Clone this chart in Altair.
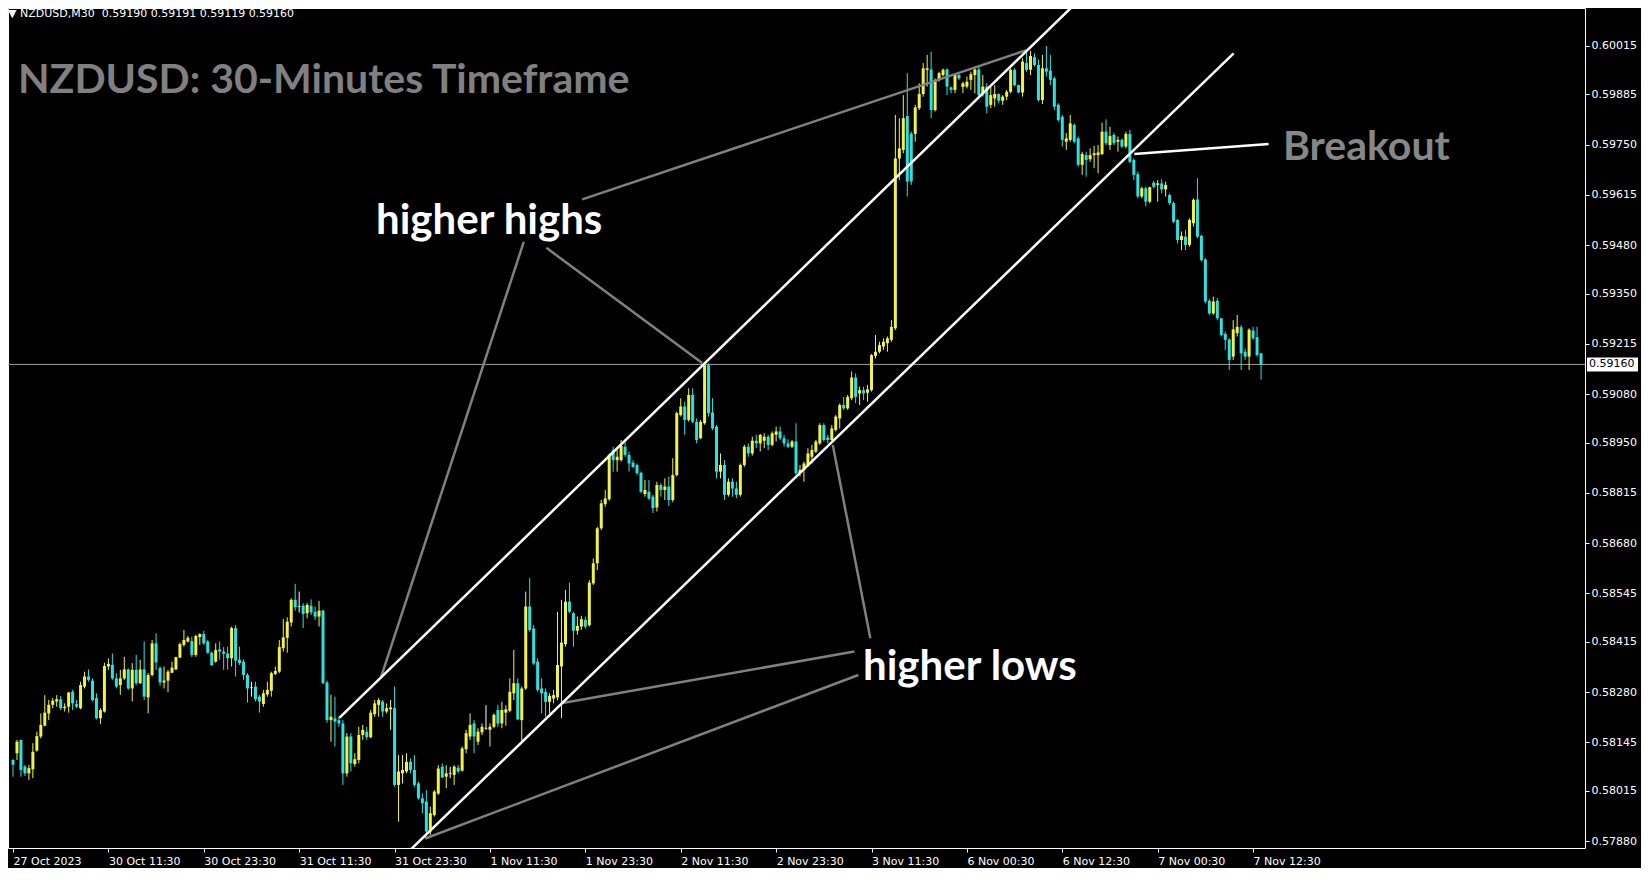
import altair as alt
import pandas as pd

# ---------------- data ----------------
open_ = [
 0.58098,0.58116,0.58152,0.58080,0.58062,0.58073,0.58123,0.58161,0.58190,0.58223,
 0.58246,0.58255,0.58261,0.58237,0.58241,0.58281,0.58248,0.58237,0.58295,0.58322,
 0.58311,0.58264,0.58210,0.58228,0.58349,0.58353,0.58317,0.58299,0.58317,0.58341,
 0.58290,0.58340,0.58304,0.58341,0.58266,0.58326,0.58411,0.58345,0.58306,0.58311,
 0.58332,0.58341,0.58373,0.58407,0.58416,0.58417,0.58380,0.58428,0.58436,0.58416,
 0.58386,0.58362,0.58395,0.58389,0.58384,0.58371,0.58452,0.58367,0.58362,0.58326,
 0.58292,0.58295,0.58268,0.58248,0.58274,0.58284,0.58329,0.58335,0.58398,0.58426,
 0.58467,0.58528,0.58510,0.58512,0.58492,0.58512,0.58496,0.58483,0.58499,0.58306,
 0.58205,0.58210,0.58205,0.58196,0.58062,0.58161,0.58087,0.58098,0.58165,0.58174,
 0.58159,0.58221,0.58246,0.58255,0.58228,0.58234,0.58237,0.58031,0.58062,0.58067,
 0.58093,0.58071,0.58035,0.57995,0.57986,0.57906,0.57950,0.58008,0.58080,0.58053,
 0.58062,0.58058,0.58077,0.58069,0.58127,0.58161,0.58196,0.58147,0.58172,0.58183,
 0.58179,0.58187,0.58232,0.58196,0.58225,0.58230,0.58277,0.58304,0.58205,0.58290,
 0.58510,0.58451,0.58362,0.58290,0.58281,0.58254,0.58263,0.58266,0.58349,0.58409,
 0.58523,0.58492,0.58445,0.58456,0.58474,0.58460,0.58572,0.58626,0.58720,0.58785,
 0.58798,0.58930,0.58903,0.58903,0.58939,0.58917,0.58896,0.58890,0.58869,0.58812,
 0.58818,0.58805,0.58776,0.58836,0.58823,0.58832,0.58796,0.58863,0.59024,0.59047,
 0.59011,0.59078,0.59006,0.58962,0.59002,0.59158,0.59031,0.58993,0.58872,0.58890,
 0.58810,0.58845,0.58827,0.58810,0.58890,0.58939,0.58921,0.58955,0.58948,0.58955,
 0.58966,0.58944,0.58971,0.58980,0.58962,0.58948,0.58939,0.58953,0.58868,0.58877,
 0.58890,0.58912,0.58926,0.58948,0.58997,0.58964,0.58957,0.58984,0.59015,0.59051,
 0.59042,0.59069,0.59125,0.59082,0.59091,0.59084,0.59091,0.59183,0.59194,0.59208,
 0.59217,0.59226,0.59257,0.59713,0.59736,0.59827,0.59780,0.59779,0.59848,0.59886,
 0.59951,0.59952,0.59843,0.59924,0.59937,0.59952,0.59904,0.59897,0.59937,0.59905,
 0.59906,0.59924,0.59937,0.59952,0.59888,0.59906,0.59857,0.59874,0.59886,0.59868,
 0.59879,0.59892,0.59951,0.59910,0.59890,0.59969,0.59951,0.59985,0.59964,0.59870,
 0.59955,0.59949,0.59928,0.59857,0.59825,0.59758,0.59763,0.59803,0.59767,0.59696,
 0.59722,0.59711,0.59722,0.59722,0.59725,0.59785,0.59749,0.59776,0.59758,0.59763,
 0.59745,0.59779,0.59709,0.59671,0.59611,0.59633,0.59597,0.59648,0.59642,0.59646,
 0.59630,0.59615,0.59593,0.59548,0.59494,0.59503,0.59481,0.59539,0.59603,0.59505,
 0.59442,0.59331,0.59297,0.59331,0.59284,0.59242,0.59227,0.59181,0.59244,0.59260,
 0.59194,0.59181,0.59251,0.59233,0.59190]

high = [
 0.58100,0.58152,0.58152,0.58085,0.58085,0.58143,0.58174,0.58223,0.58272,0.58259,
 0.58264,0.58272,0.58270,0.58250,0.58281,0.58286,0.58259,0.58308,0.58335,0.58341,
 0.58317,0.58277,0.58237,0.58359,0.58371,0.58384,0.58331,0.58340,0.58375,0.58344,
 0.58358,0.58380,0.58367,0.58416,0.58331,0.58420,0.58438,0.58349,0.58349,0.58340,
 0.58362,0.58375,0.58413,0.58447,0.58431,0.58429,0.58434,0.58438,0.58445,0.58420,
 0.58389,0.58411,0.58416,0.58401,0.58402,0.58456,0.58460,0.58402,0.58368,0.58331,
 0.58308,0.58308,0.58272,0.58286,0.58308,0.58335,0.58349,0.58420,0.58476,0.58481,
 0.58532,0.58571,0.58550,0.58519,0.58520,0.58529,0.58510,0.58525,0.58501,0.58311,
 0.58273,0.58268,0.58214,0.58205,0.58170,0.58170,0.58116,0.58187,0.58192,0.58187,
 0.58232,0.58259,0.58264,0.58259,0.58250,0.58259,0.58295,0.58111,0.58111,0.58116,
 0.58102,0.58111,0.58040,0.58008,0.58017,0.57973,0.58017,0.58084,0.58089,0.58084,
 0.58080,0.58084,0.58084,0.58134,0.58179,0.58223,0.58205,0.58183,0.58196,0.58245,
 0.58196,0.58223,0.58246,0.58254,0.58245,0.58317,0.58393,0.58317,0.58295,0.58550,
 0.58586,0.58460,0.58371,0.58317,0.58290,0.58277,0.58286,0.58496,0.58528,0.58554,
 0.58574,0.58496,0.58483,0.58485,0.58483,0.58581,0.58639,0.58724,0.58796,0.58823,
 0.58921,0.58939,0.58930,0.58957,0.58953,0.58926,0.58903,0.58894,0.58872,0.58850,
 0.58850,0.58810,0.58845,0.58841,0.58854,0.58859,0.58908,0.59033,0.59069,0.59060,
 0.59096,0.59096,0.59015,0.59011,0.59163,0.59163,0.59069,0.58997,0.58921,0.58903,
 0.58854,0.58854,0.58845,0.58894,0.58944,0.58948,0.58966,0.58971,0.58973,0.58975,
 0.58971,0.58980,0.58993,0.58993,0.58971,0.58959,0.58957,0.59002,0.58890,0.58899,
 0.58935,0.58944,0.58957,0.59002,0.59002,0.58971,0.58997,0.59024,0.59055,0.59073,
 0.59078,0.59141,0.59136,0.59100,0.59100,0.59105,0.59188,0.59239,0.59221,0.59230,
 0.59235,0.59279,0.59830,0.59821,0.59883,0.59942,0.59785,0.59857,0.59915,0.59969,
 0.59991,0.60000,0.59928,0.59946,0.59955,0.59955,0.59906,0.59942,0.59942,0.59919,
 0.59933,0.59946,0.59960,0.59960,0.59937,0.59915,0.59910,0.59910,0.59888,0.59883,
 0.59897,0.59955,0.59955,0.59911,0.59982,0.60004,0.60002,0.59995,0.59979,0.59991,
 0.60015,0.59991,0.59933,0.59861,0.59830,0.59781,0.59830,0.59807,0.59772,0.59731,
 0.59731,0.59740,0.59747,0.59749,0.59809,0.59818,0.59798,0.59782,0.59772,0.59767,
 0.59785,0.59790,0.59713,0.59678,0.59637,0.59637,0.59637,0.59653,0.59655,0.59657,
 0.59651,0.59619,0.59597,0.59550,0.59517,0.59521,0.59552,0.59606,0.59660,0.59508,
 0.59445,0.59335,0.59342,0.59338,0.59284,0.59248,0.59230,0.59279,0.59293,0.59266,
 0.59203,0.59257,0.59261,0.59261,0.59191]

low = [
 0.58053,0.58098,0.58053,0.58055,0.58044,0.58049,0.58120,0.58156,0.58188,0.58205,
 0.58237,0.58241,0.58232,0.58228,0.58225,0.58232,0.58237,0.58234,0.58290,0.58308,
 0.58255,0.58207,0.58195,0.58225,0.58340,0.58313,0.58290,0.58273,0.58313,0.58286,
 0.58255,0.58299,0.58302,0.58259,0.58223,0.58322,0.58340,0.58297,0.58290,0.58280,
 0.58331,0.58340,0.58371,0.58402,0.58413,0.58374,0.58375,0.58407,0.58407,0.58383,
 0.58350,0.58359,0.58367,0.58340,0.58340,0.58349,0.58322,0.58353,0.58313,0.58252,
 0.58268,0.58255,0.58225,0.58241,0.58268,0.58268,0.58326,0.58331,0.58389,0.58386,
 0.58456,0.58499,0.58494,0.58452,0.58478,0.58487,0.58474,0.58456,0.58302,0.58198,
 0.58147,0.58134,0.58187,0.58031,0.58053,0.58067,0.58080,0.58089,0.58152,0.58152,
 0.58156,0.58214,0.58214,0.58214,0.58223,0.58179,0.58026,0.57932,0.58035,0.58062,
 0.58062,0.58026,0.57991,0.57955,0.57901,0.57897,0.57946,0.58004,0.58049,0.58022,
 0.58049,0.58031,0.58062,0.58067,0.58116,0.58152,0.58116,0.58138,0.58165,0.58179,
 0.58134,0.58183,0.58187,0.58183,0.58190,0.58226,0.58259,0.58205,0.58147,0.58286,
 0.58442,0.58353,0.58281,0.58223,0.58214,0.58223,0.58250,0.58259,0.58210,0.58402,
 0.58492,0.58402,0.58434,0.58447,0.58451,0.58456,0.58568,0.58608,0.58715,0.58778,
 0.58794,0.58872,0.58872,0.58899,0.58912,0.58872,0.58881,0.58863,0.58814,0.58805,
 0.58796,0.58761,0.58765,0.58805,0.58796,0.58780,0.58790,0.58859,0.59020,0.58971,
 0.59006,0.59002,0.58948,0.58959,0.58998,0.59020,0.58984,0.58854,0.58854,0.58796,
 0.58805,0.58805,0.58801,0.58805,0.58885,0.58912,0.58915,0.58935,0.58926,0.58935,
 0.58930,0.58940,0.58953,0.58957,0.58939,0.58935,0.58935,0.58863,0.58859,0.58845,
 0.58885,0.58894,0.58922,0.58944,0.58953,0.58948,0.58955,0.58980,0.58988,0.59038,
 0.59038,0.59064,0.59056,0.59051,0.59064,0.59060,0.59087,0.59176,0.59190,0.59199,
 0.59194,0.59221,0.59252,0.59655,0.59727,0.59611,0.59642,0.59758,0.59843,0.59879,
 0.59906,0.59821,0.59839,0.59919,0.59933,0.59883,0.59888,0.59888,0.59924,0.59888,
 0.59901,0.59897,0.59888,0.59879,0.59879,0.59834,0.59848,0.59852,0.59861,0.59857,
 0.59870,0.59888,0.59906,0.59888,0.59879,0.59946,0.59937,0.59960,0.59866,0.59859,
 0.59933,0.59910,0.59843,0.59812,0.59745,0.59736,0.59758,0.59754,0.59691,0.59669,
 0.59664,0.59704,0.59687,0.59673,0.59722,0.59749,0.59736,0.59749,0.59731,0.59740,
 0.59740,0.59700,0.59655,0.59606,0.59606,0.59584,0.59593,0.59633,0.59597,0.59619,
 0.59611,0.59588,0.59539,0.59485,0.59467,0.59467,0.59476,0.59530,0.59499,0.59436,
 0.59324,0.59293,0.59293,0.59279,0.59235,0.59199,0.59145,0.59172,0.59235,0.59145,
 0.59172,0.59145,0.59226,0.59181,0.59119]

close = [
 0.58085,0.58147,0.58071,0.58062,0.58076,0.58120,0.58162,0.58192,0.58225,0.58246,
 0.58257,0.58261,0.58237,0.58241,0.58279,0.58250,0.58241,0.58299,0.58322,0.58313,
 0.58259,0.58210,0.58232,0.58350,0.58356,0.58317,0.58295,0.58317,0.58341,0.58290,
 0.58340,0.58304,0.58341,0.58268,0.58326,0.58411,0.58360,0.58306,0.58311,0.58335,
 0.58346,0.58374,0.58409,0.58420,0.58426,0.58380,0.58431,0.58436,0.58411,0.58386,
 0.58353,0.58393,0.58389,0.58383,0.58371,0.58452,0.58365,0.58358,0.58326,0.58290,
 0.58292,0.58261,0.58255,0.58277,0.58286,0.58331,0.58337,0.58401,0.58427,0.58469,
 0.58528,0.58508,0.58510,0.58490,0.58514,0.58494,0.58483,0.58499,0.58304,0.58205,
 0.58214,0.58201,0.58196,0.58062,0.58161,0.58089,0.58100,0.58165,0.58179,0.58159,
 0.58225,0.58250,0.58259,0.58228,0.58237,0.58239,0.58031,0.58067,0.58071,0.58093,
 0.58071,0.58031,0.57995,0.57982,0.57906,0.57955,0.58013,0.58075,0.58051,0.58062,
 0.58062,0.58080,0.58067,0.58129,0.58170,0.58192,0.58161,0.58174,0.58187,0.58183,
 0.58187,0.58219,0.58196,0.58232,0.58234,0.58281,0.58304,0.58207,0.58290,0.58510,
 0.58447,0.58357,0.58286,0.58277,0.58254,0.58270,0.58272,0.58353,0.58413,0.58523,
 0.58496,0.58445,0.58458,0.58476,0.58456,0.58574,0.58626,0.58720,0.58787,0.58800,
 0.58917,0.58903,0.58912,0.58941,0.58917,0.58894,0.58885,0.58868,0.58818,0.58823,
 0.58800,0.58774,0.58836,0.58823,0.58832,0.58796,0.58863,0.59029,0.59047,0.59011,
 0.59078,0.59006,0.58957,0.59006,0.59158,0.59029,0.58988,0.58872,0.58890,0.58810,
 0.58845,0.58827,0.58810,0.58890,0.58939,0.58921,0.58955,0.58948,0.58971,0.58966,
 0.58944,0.58975,0.58980,0.58962,0.58948,0.58939,0.58953,0.58868,0.58877,0.58894,
 0.58921,0.58930,0.58953,0.58997,0.58957,0.58957,0.58988,0.59020,0.59051,0.59042,
 0.59073,0.59125,0.59073,0.59091,0.59082,0.59093,0.59185,0.59194,0.59212,0.59221,
 0.59230,0.59261,0.59713,0.59740,0.59821,0.59651,0.59651,0.59850,0.59886,0.59955,
 0.59955,0.59843,0.59924,0.59942,0.59951,0.59906,0.59897,0.59937,0.59928,0.59915,
 0.59919,0.59939,0.59952,0.59883,0.59906,0.59852,0.59883,0.59886,0.59868,0.59879,
 0.59892,0.59951,0.59910,0.59890,0.59973,0.59951,0.59988,0.59964,0.59870,0.59955,
 0.59946,0.59924,0.59852,0.59816,0.59763,0.59767,0.59807,0.59758,0.59696,0.59725,
 0.59709,0.59722,0.59727,0.59729,0.59785,0.59754,0.59773,0.59754,0.59763,0.59745,
 0.59779,0.59704,0.59669,0.59611,0.59633,0.59597,0.59636,0.59637,0.59646,0.59630,
 0.59642,0.59593,0.59543,0.59494,0.59505,0.59481,0.59548,0.59602,0.59503,0.59440,
 0.59329,0.59297,0.59329,0.59284,0.59239,0.59226,0.59172,0.59254,0.59261,0.59190,
 0.59181,0.59253,0.59230,0.59185,0.59160]

# time axis: one label every 24 bars (30-minute candles)
x_tick_bars = [0, 24, 48, 72, 96, 120, 144, 168, 192, 216, 240, 264, 288, 312]
x_tick_labels = ["27 Oct 2023", "30 Oct 11:30", "30 Oct 23:30", "31 Oct 11:30",
                 "31 Oct 23:30", "1 Nov 11:30", "1 Nov 23:30", "2 Nov 11:30",
                 "2 Nov 23:30", "3 Nov 11:30", "6 Nov 00:30", "6 Nov 12:30",
                 "7 Nov 00:30", "7 Nov 12:30"]
y_tick_values = [0.60015, 0.59885, 0.59750, 0.59615, 0.59480, 0.59350, 0.59215,
                 0.59080, 0.58950, 0.58815, 0.58680, 0.58545, 0.58415, 0.58280,
                 0.58145, 0.58015, 0.57880]
last_price = [0.59160]
last_price_label = ["0.59160"]

header_text = "\u25bc NZDUSD,M30\u00a0\u00a00.59190 0.59191 0.59119 0.59160"
title_text = "NZDUSD: 30-Minutes Timeframe"
label_hh = "higher highs"
label_hl = "higher lows"
label_bo = "Breakout"

# drawn trend lines: (bar index, price) end points
upper_channel_bars, upper_channel_prices = [82.1, 267.4], [0.58211, 0.60130]
lower_channel_bars, lower_channel_prices = [97.3, 307.1], [0.57829, 0.59995]
breakout_bars, breakout_prices = [282.1, 315.9], [0.59725, 0.59752]
hh_left_bars, hh_left_prices = [92.5, 128.5], [0.58317, 0.59489]
hh_mid_bars, hh_mid_prices = [134.2, 173.4], [0.59473, 0.59164]
hh_top_bars, hh_top_prices = [143.2, 255.0], [0.59603, 0.60004]
hl_down_bars, hl_down_prices = [206.25, 215.7], [0.58944, 0.58425]
hl_mid_bars, hl_mid_prices = [137.9, 211.7], [0.58250, 0.58389]
hl_low_bars, hl_low_prices = [103.7, 212.7], [0.57887, 0.58326]

# ---------------- build tables ----------------
candles = pd.DataFrame({"bar": list(range(len(close))), "open": open_,
                        "high": high, "low": low, "close": close})
candles["dir"] = ["up" if c > o else ("down" if c < o else "doji")
                  for o, c in zip(open_, close)]
dojis = candles[candles["dir"] == "doji"]

def seg_table(segs):
    rows = []
    for name, (bs, ps) in segs.items():
        for b, p in zip(bs, ps):
            rows.append({"seg": name, "bar": b, "price": p})
    return pd.DataFrame(rows)

white_lines = seg_table({
    "upper": (upper_channel_bars, upper_channel_prices),
    "lower": (lower_channel_bars, lower_channel_prices),
    "breakout": (breakout_bars, breakout_prices)})
gray_lines = seg_table({
    "hh_left": (hh_left_bars, hh_left_prices),
    "hh_mid": (hh_mid_bars, hh_mid_prices),
    "hh_top": (hh_top_bars, hh_top_prices),
    "hl_down": (hl_down_bars, hl_down_prices),
    "hl_mid": (hl_mid_bars, hl_mid_prices),
    "hl_low": (hl_low_bars, hl_low_prices)})
price_df = pd.DataFrame({"price": last_price, "label": last_price_label})

# ---------------- scales / axes ----------------
W, H = 1577, 840
YELLOW, CYAN = "#f2f246", "#2ae2e2"
xs = alt.Scale(domain=[0, 394.25], nice=False, zero=False)
ys = alt.Scale(domain=[0.578616, 0.601170], nice=False, zero=False)
label_expr = ("[" + ",".join("'%s'" % s for s in x_tick_labels) + "][indexof(["
              + ",".join(str(b) for b in x_tick_bars) + "], datum.value)]")
x_axis = alt.Axis(values=x_tick_bars, labelExpr=label_expr, title=None, grid=False,
                  domain=False, tickColor="white", tickSize=4, labelColor="white",
                  labelFont="DejaVu Sans", labelFontSize=11, labelAlign="left",
                  labelBaseline="top", labelPadding=3, labelFlush=False,
                  labelOverlap=False)
y_axis = alt.Axis(orient="right", values=y_tick_values, format=".5f", title=None,
                  grid=False, domain=False, tickColor="white", tickSize=4,
                  labelColor="white", labelFont="DejaVu Sans", labelFontSize=11,
                  labelPadding=2, labelFlush=False, labelOverlap=False)
color = alt.Color("dir:N", scale=alt.Scale(domain=["up", "down", "doji"],
                                           range=[YELLOW, CYAN, "white"]), legend=None)

X = lambda f="bar": alt.X(f"{f}:Q", scale=xs, axis=x_axis)
Y = lambda f: alt.Y(f"{f}:Q", scale=ys, axis=y_axis)

price_line = alt.Chart(price_df).mark_rule(color="#9c9c9c", strokeWidth=1).encode(
    y=Y("price"))
wicks = alt.Chart(candles).mark_rule(strokeWidth=1, clip=True).encode(
    x=X(), y=Y("low"), y2="high:Q", color=color)
bodies = alt.Chart(candles).mark_bar(width=3, clip=True).encode(
    x=X(), y=Y("open"), y2="close:Q", color=color)
doji_marks = alt.Chart(dojis).mark_tick(orient="horizontal", size=3, thickness=1,
                                        color="white").encode(x=X(), y=Y("open"))
gray = alt.Chart(gray_lines).mark_line(color="#808080", strokeWidth=2.5, clip=True).encode(
    x=X(), y=Y("price"), detail="seg:N")
white = alt.Chart(white_lines).mark_line(color="white", strokeWidth=2.5, clip=True).encode(
    x=X(), y=Y("price"), detail="seg:N")

def text_layer(txt, x, y, size, color_, weight="bold", font="Lato"):
    return alt.Chart(pd.DataFrame({"t": [txt]})).mark_text(
        align="left", baseline="alphabetic", font=font, fontSize=size,
        fontWeight=weight, color=color_).encode(
        x=alt.value(x), y=alt.value(y), text="t:N")

header = text_layer(header_text, 0, 9, 11, "white", weight="normal", font="DejaVu Sans")
title = text_layer(title_text, 10, 84.5, 41, "#808080")
t_hh = text_layer(label_hh, 368, 225.5, 42, "white")
t_hl = text_layer(label_hl, 855, 672, 42, "white")
t_bo = text_layer(label_bo, 1275, 152, 41, "#878787")

price_box = alt.Chart(price_df).mark_tick(orient="horizontal", size=51, thickness=14,
                                          color="white", opacity=1).encode(
    x=alt.value(1604.5), y=Y("price"))
price_txt = alt.Chart(price_df).mark_text(align="left", baseline="middle", color="black",
                                          font="DejaVu Sans", fontSize=11).encode(
    x=alt.value(1581), y=Y("price"), text="label:N")

chart = alt.layer(price_line, wicks, bodies, doji_marks, gray, white, header, title,
                  t_hh, t_hl, t_bo, price_box, price_txt).properties(
    width=W, height=H,
    autosize=alt.AutoSizeParams(type="none"),
    padding={"left": 0, "top": 0, "right": 56, "bottom": 20},
    background="black",
).configure_view(stroke="white", strokeWidth=1)

chart.save("out.html", embed_options={"renderer": "svg", "actions": False})
